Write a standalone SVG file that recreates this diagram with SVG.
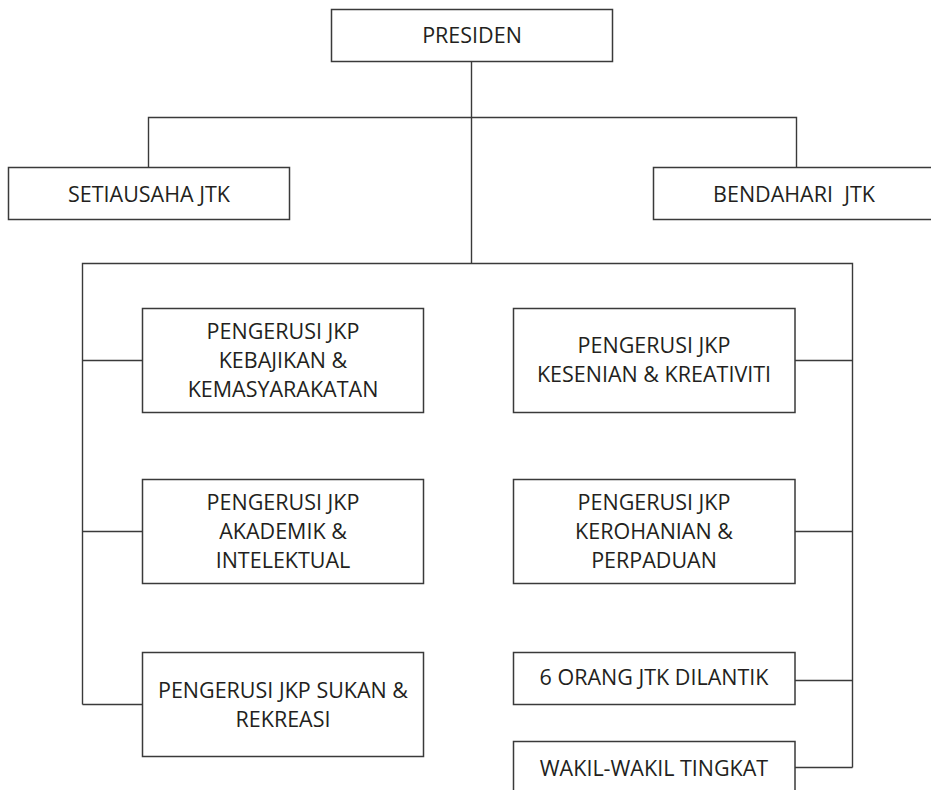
<svg xmlns="http://www.w3.org/2000/svg" width="931" height="790" viewBox="0 0 931 790">
<style>
.box{fill:#fff;stroke:#3a3a3a;stroke-width:1.5}
.conn{fill:none;stroke:#3a3a3a;stroke-width:1.4}
text{font-family:"Open Sans","Noto Sans","Liberation Sans",sans-serif;font-size:21.5px;fill:#231f20;text-anchor:middle}
</style>
<rect width="931" height="790" fill="#fff"/>
<g id="connectors" class="conn">
<path d="M471.5 61V263"/>
<path d="M148.5 167V117.5H796.5V167"/>
<path d="M82.5 704.5V263.5H852.5V767.5"/>
<path d="M82.5 360.5H142"/>
<path d="M82.5 531.5H142"/>
<path d="M82.5 704.5H142"/>
<path d="M795 360.5H852.5"/>
<path d="M795 531.5H852.5"/>
<path d="M795 680.5H852.5"/>
<path d="M795 767.5H852.5"/>
</g>
<g id="presiden"><rect class="box" x="331.5" y="9.5" width="281" height="52"/><text x="472" y="43">PRESIDEN</text></g>
<g id="setiausaha"><rect class="box" x="8.5" y="167.5" width="281" height="52"/><text x="149" y="202">SETIAUSAHA JTK</text></g>
<g id="bendahari"><rect class="box" x="653.5" y="167.5" width="281" height="52"/><text x="794" y="202" style="white-space:pre">BENDAHARI  JTK</text></g>
<g id="kebajikan"><rect class="box" x="142.5" y="308.5" width="281" height="104"/><text x="283" y="339">PENGERUSI JKP</text><text x="283" y="368">KEBAJIKAN &amp;</text><text x="283" y="397">KEMASYARAKATAN</text></g>
<g id="kesenian"><rect class="box" x="513.5" y="308.5" width="281.5" height="104"/><text x="654" y="353">PENGERUSI JKP</text><text x="654" y="382">KESENIAN &amp; KREATIVITI</text></g>
<g id="akademik"><rect class="box" x="142.5" y="479.5" width="281" height="104"/><text x="283" y="510">PENGERUSI JKP</text><text x="283" y="539">AKADEMIK &amp;</text><text x="283" y="568">INTELEKTUAL</text></g>
<g id="kerohanian"><rect class="box" x="513.5" y="479.5" width="281.5" height="104"/><text x="654" y="510">PENGERUSI JKP</text><text x="654" y="539">KEROHANIAN &amp;</text><text x="654" y="568">PERPADUAN</text></g>
<g id="sukan"><rect class="box" x="142.5" y="652.5" width="281" height="104"/><text x="283" y="698">PENGERUSI JKP SUKAN &amp;</text><text x="283" y="727">REKREASI</text></g>
<g id="dilantik"><rect class="box" x="513.5" y="652.5" width="281.5" height="52"/><text x="654" y="685">6 ORANG JTK DILANTIK</text></g>
<g id="wakil"><rect class="box" x="513.5" y="741.5" width="281.5" height="52"/><text x="654" y="776">WAKIL-WAKIL TINGKAT</text></g>
</svg>
